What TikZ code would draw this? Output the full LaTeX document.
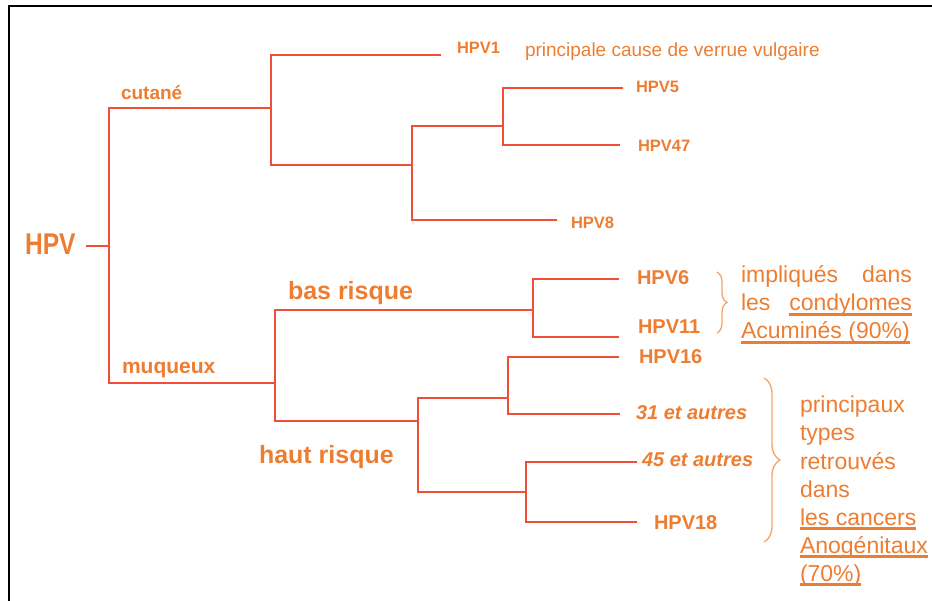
\documentclass[tikz,border=0pt]{standalone}
\usepackage{fontspec}
\usepackage{graphicx}
\setmainfont{Liberation Sans}
\usetikzlibrary{decorations.pathreplacing}
\definecolor{treered}{HTML}{F04E37}
\definecolor{txtor}{HTML}{ED7D31}
\definecolor{bror}{HTML}{F2A46A}
\newcommand{\fsz}[1]{\fontsize{#1}{#1}\selectfont}
\begin{document}
\begin{tikzpicture}[x=1pt,y=-1pt,
  branch/.style={draw=treered, line width=2.6pt},
  lbl/.style={inner sep=0pt, outer sep=0pt, anchor=base west, text=txtor},
  smallleaf/.style={lbl, font=\fsz{16.5}\bfseries},
  bigleaf/.style={lbl, font=\fsz{20}\bfseries},
  note/.style={lbl, font=\fsz{23}},
  uline/.style={draw=txtor, line width=2.2pt},
  bracestyle/.style={draw=bror, line width=1.3pt, decorate},
  frame/.style={draw=black, line width=2pt}]
\useasboundingbox (0,0) rectangle (932,601);
% frame
\coordinate (fbl) at (9,601);
\coordinate (ftl) at (9,6);
\coordinate (ftr) at (932,6);
\draw[frame] (fbl) -- (ftl) -- (ftr);
% junctions
\coordinate (hpvend) at (86,246);
\coordinate (root) at (109,246);
\coordinate (cut) at (271,108);
\coordinate (muq) at (275,383);
\coordinate (k) at (412,165);
\coordinate (m) at (503,126);
\coordinate (bas) at (533,310);
\coordinate (haut) at (418,421);
\coordinate (p) at (508,398);
\coordinate (q) at (526,492);
% leaf ends
\coordinate (e1) at (441,55);
\coordinate (e5) at (623,88);
\coordinate (e47) at (620,145);
\coordinate (e8) at (557,220);
\coordinate (e6) at (619,279);
\coordinate (e11) at (619,337);
\coordinate (e16) at (619,357);
\coordinate (e31) at (620,414);
\coordinate (e45) at (637,462);
\coordinate (e18) at (637,522);
% tree
\draw[branch] (hpvend) -- (root);
\draw[branch] (cut) -| (root) |- (muq);
\draw[branch] (e1) -| (cut) |- (k);
\draw[branch] (m) -| (k) |- (e8);
\draw[branch] (e5) -| (m) |- (e47);
\draw[branch] (bas) -| (muq) |- (haut);
\draw[branch] (e6) -| (bas) |- (e11);
\draw[branch] (p) -| (haut) |- (q);
\draw[branch] (e16) -| (p) |- (e31);
\draw[branch] (e45) -| (q) |- (e18);
% labels
\node[lbl, font=\fsz{30}\bfseries] (hpv) at (25,255) {\scalebox{0.82}[1]{HPV}};
\node[lbl, font=\fsz{19}\bfseries] (cutane) at (121,100) {cutané};
\node[lbl, font=\fsz{21}\bfseries] (muqueux) at (122,374) {muqueux};
\node[lbl, font=\fsz{25}\bfseries] (basr) at (288,300) {bas risque};
\node[lbl, font=\fsz{25}\bfseries] (hautr) at (259,464) {haut risque};
\node[smallleaf] (hpv1) at (457,54) {HPV1};
\node[lbl, font=\fsz{19}] (cause) at (525,57) {principale cause de verrue vulgaire};
\node[smallleaf] (hpv5) at (636,93) {HPV5};
\node[smallleaf] (hpv47) at (638,152) {HPV47};
\node[smallleaf] (hpv8) at (571,229) {HPV8};
\node[bigleaf] (hpv6) at (637,285) {HPV6};
\node[bigleaf] (hpv11) at (638,334) {HPV11};
\node[bigleaf] (hpv16) at (639,364) {HPV16};
\node[bigleaf, font=\fsz{20}\bfseries\itshape] (t31) at (636,420) {31 et autres};
\node[bigleaf, font=\fsz{20}\bfseries\itshape] (t45) at (642,467) {45 et autres};
\node[bigleaf] (hpv18) at (654,529) {HPV18};
% braces
\coordinate (b1a) at (717,272);
\coordinate (b1b) at (717,333);
\coordinate (b2a) at (764,378);
\coordinate (b2b) at (764,542);
\draw[bracestyle, decoration={brace, amplitude=10pt}] (b1a) -- (b1b);
\draw[bracestyle, decoration={brace, amplitude=16pt}] (b2a) -- (b2b);
% note 1
\node[note] (w1) at (741,283) {impliqués};
\node[note, anchor=base east] (w2) at (912,283) {dans};
\node[note] (w3) at (741,311) {les};
\node[note, anchor=base east] (w4) at (912,311) {condylomes};
\node[note] (w5) at (741,339) {Acuminés (90\%)};
% note 2
\node[note] (c1) at (800,413) {principaux};
\node[note] (c2) at (800,441) {types};
\node[note] (c3) at (800,469) {retrouvés};
\node[note] (c4) at (800,497) {dans};
\node[note] (c5) at (800,525) {les cancers};
\node[note] (c6) at (800,553) {Anogénitaux};
\node[note] (c7) at (800,581) {(70\%)};
\foreach \n in {w4,w5,c5,c6,c7}
  \draw[uline] ([yshift=-3.5pt]\n.base west) -- ([yshift=-3.5pt]\n.base east);
\end{tikzpicture}
\end{document}
